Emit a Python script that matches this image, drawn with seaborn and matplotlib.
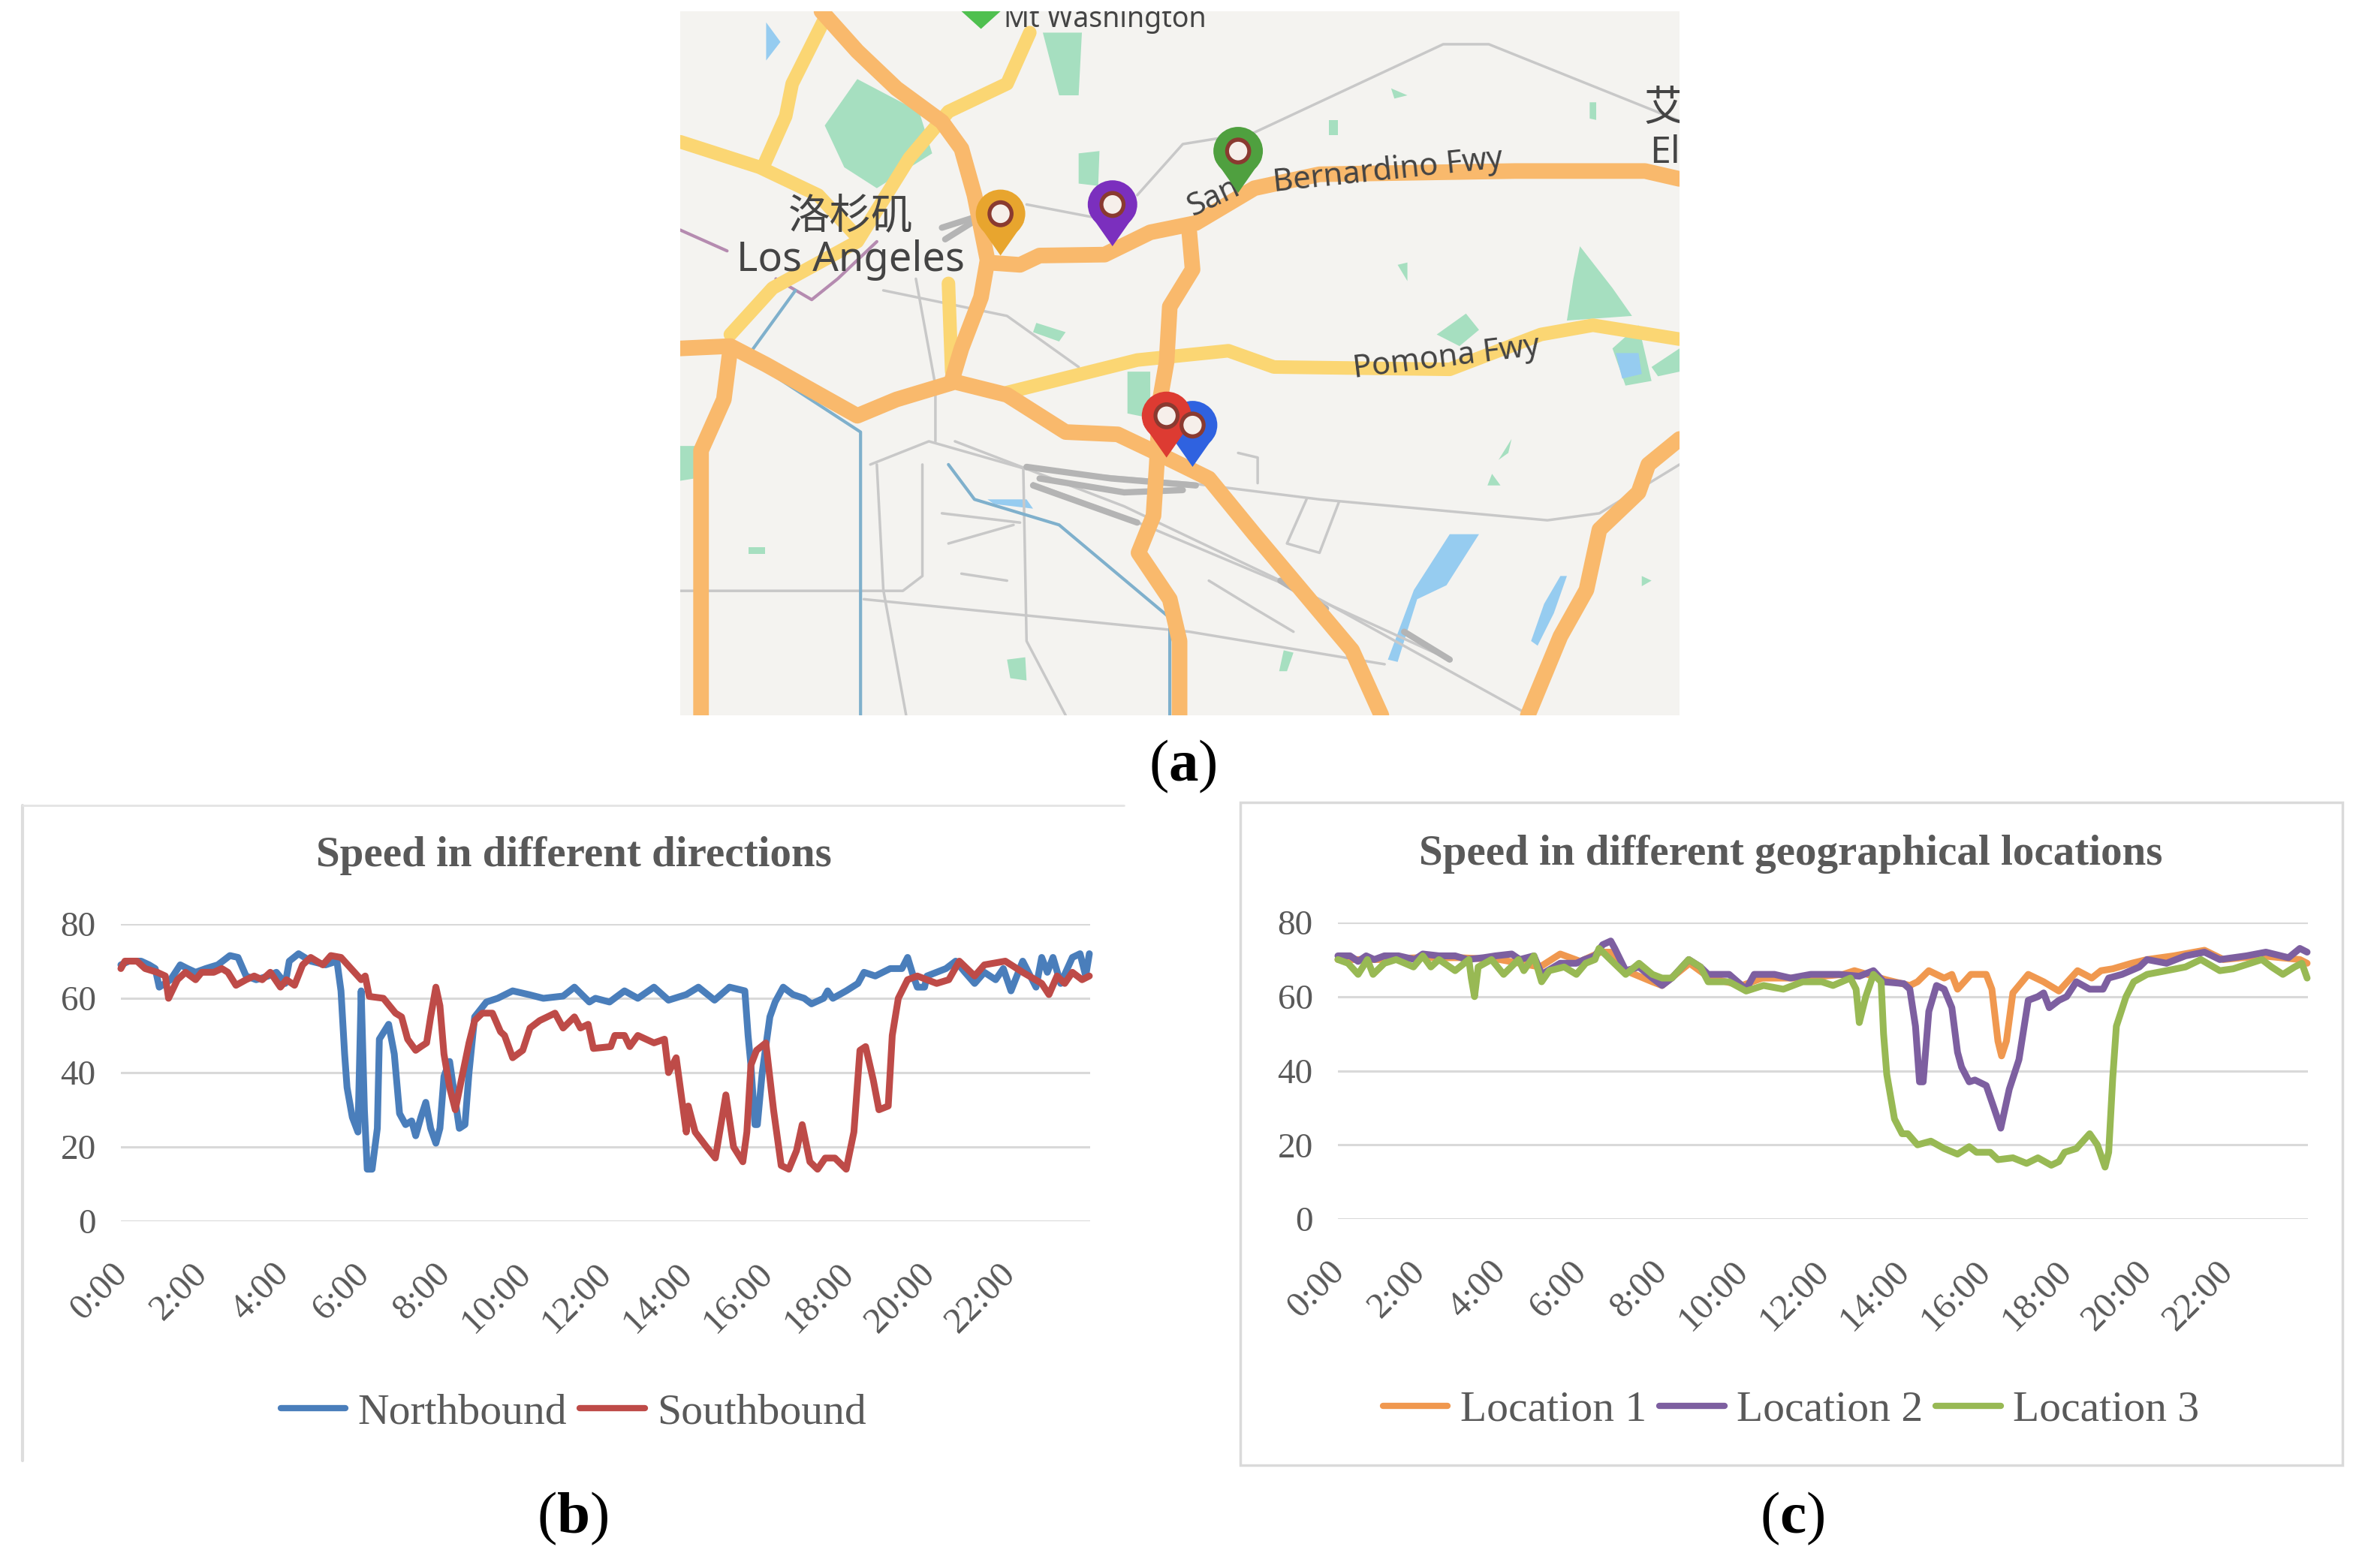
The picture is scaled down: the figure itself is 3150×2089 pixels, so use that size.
import matplotlib
matplotlib.use("Agg")
import pandas as pd
import matplotlib.pyplot as plt
import seaborn as sns
from matplotlib.lines import Line2D
from matplotlib.patches import Ellipse, Polygon, Rectangle
from matplotlib.transforms import ScaledTranslation

# ---- data (hours, mph) ----
time_labels = ['0:00', '2:00', '4:00', '6:00', '8:00', '10:00', '12:00', '14:00', '16:00', '18:00', '20:00', '22:00']
time_ticks = [0, 2, 4, 6, 8, 10, 12, 14, 16, 18, 20, 22]
speed_ticks = [0, 20, 40, 60, 80]

north_h = [0, .2, .5, .7, .85, .95, 1.23, 1.47, 1.65, 1.85, 2.1, 2.4, 2.7, 2.9, 3.1, 3.35, 3.65, 3.85, 4.07, 4.17, 4.4, 4.7, 5.07, 5.35, 5.45, 5.54, 5.6, 5.73, 5.87, 5.95, 6.03, 6.1, 6.22, 6.35, 6.4, 6.63, 6.77, 6.9, 7.05, 7.2, 7.3, 7.43, 7.55, 7.67, 7.8, 7.9, 8, 8.14, 8.38, 8.52, 8.62, 8.76, 9.05, 9.33, 9.7, 10.1, 10.46, 10.95, 11.23, 11.6, 11.75, 12.1, 12.47, 12.8, 13.2, 13.56, 14, 14.3, 14.7, 15.07, 15.45, 15.53, 15.6, 15.7, 15.76, 15.88, 16.07, 16.2, 16.4, 16.64, 16.92, 17.1, 17.4, 17.5, 17.63, 17.96, 18.25, 18.4, 18.68, 19.05, 19.34, 19.48, 19.62, 19.72, 19.9, 19.96, 20.43, 20.67, 20.9, 21.14, 21.38, 21.66, 21.85, 22.04, 22.33, 22.66, 22.8, 22.94, 23.08, 23.27, 23.56, 23.75, 23.89, 23.98]
north_v = [69, 70, 70, 69, 68, 63, 65, 69, 68, 67, 68, 69, 71.5, 71, 66, 65, 66, 67, 64, 70, 72, 70, 69, 70, 62, 45, 36, 28, 24, 62, 30, 14, 14, 25, 49, 53, 45, 29, 26, 27, 23, 28, 32, 25, 21, 25, 39, 43, 25, 26, 40, 55, 59, 60, 62, 61, 60, 60.6, 63, 59, 60, 59, 62, 60, 63, 59.5, 61, 63, 59.5, 63, 62, 50, 42, 26, 26, 40, 55, 59, 63, 61, 60, 58.5, 60, 62, 60, 62, 64, 67, 66, 68, 68, 71, 66, 63, 63, 66, 68, 70, 67, 64, 67, 65, 68, 62, 70, 63, 71, 67, 71, 64, 71, 72, 66, 72]

south_h = [0, .1, .4, .6, .9, 1.1, 1.18, 1.4, 1.6, 1.85, 2, 2.3, 2.5, 2.65, 2.85, 3.1, 3.3, 3.5, 3.7, 3.95, 4.1, 4.3, 4.5, 4.7, 5, 5.2, 5.45, 5.7, 5.95, 6.05, 6.15, 6.5, 6.8, 6.95, 7.1, 7.3, 7.43, 7.57, 7.67, 7.8, 7.9, 8, 8.14, 8.28, 8.43, 8.62, 8.76, 8.95, 9.2, 9.4, 9.5, 9.7, 9.95, 10.13, 10.37, 10.75, 10.95, 11.23, 11.38, 11.57, 11.7, 12.13, 12.23, 12.47, 12.6, 12.8, 13.2, 13.46, 13.56, 13.75, 14, 14.05, 14.22, 14.5, 14.72, 14.98, 15.17, 15.4, 15.5, 15.6, 15.74, 15.97, 16.16, 16.35, 16.54, 16.73, 16.87, 17.06, 17.25, 17.44, 17.68, 17.96, 18.15, 18.3, 18.44, 18.63, 18.77, 19, 19.1, 19.25, 19.48, 19.72, 20.2, 20.5, 20.76, 21.14, 21.38, 21.9, 22.33, 22.8, 22.98, 23.18, 23.37, 23.56, 23.8, 23.98]
south_v = [68, 70, 70, 68, 67, 66, 60, 65, 67, 65, 67, 67, 68, 67, 63.5, 65, 66, 65, 67, 63, 65, 63.5, 69, 71, 69, 71.5, 71, 68, 65, 66, 60.5, 60, 56, 55, 49, 46, 47, 48, 55, 63, 58, 45, 36, 30, 38, 48, 54, 56, 56, 51, 50, 44, 46, 52, 54, 56, 52, 55, 52, 53, 46.5, 47, 50, 50, 47, 50, 48, 49, 40, 44, 24, 31, 24, 20, 17, 34, 20, 16, 24, 42, 46, 48, 30, 15, 14, 19, 26, 16, 14, 17, 17, 14, 24, 46, 47, 38, 30, 31, 50, 60, 65, 66, 64, 65, 70, 66, 69, 70, 67, 64, 61, 66, 64, 67, 65, 66]

loc1_h = [0, 1, 2, 3, 4, 5, 5.5, 6, 6.5, 6.75, 7.12, 7.78, 8.02, 8.7, 9.2, 10, 10.5, 11.5, 12.5, 12.78, 13.58, 14.15, 14.34, 14.62, 15, 15.19, 15.33, 15.66, 16.04, 16.18, 16.33, 16.42, 16.54, 16.7, 17.08, 17.46, 17.84, 18.3, 18.65, 18.88, 19.17, 19.64, 20.02, 20.68, 21.44, 21.91, 22.86, 23.8, 23.98]
loc1_v = [70, 70, 70.5, 70.5, 70, 68, 71.5, 69.5, 72, 72, 67, 64, 63, 69, 65, 63, 65, 65, 66, 67, 64.5, 63, 64, 67, 65, 66, 62, 66, 66, 62, 48, 44, 48, 61, 66, 64, 61.5, 67, 65, 67, 67.5, 69, 70, 71, 72.5, 70, 71, 70, 69]

loc2_h = [0, .3, .5, .7, .9, 1.15, 1.5, 1.9, 2.1, 2.5, 2.9, 3.2, 3.6, 3.9, 4.3, 4.5, 4.85, 5.04, 5.5, 5.9, 6.1, 6.36, 6.55, 6.75, 6.85, 7.12, 7.45, 7.78, 8.02, 8.26, 8.68, 8.97, 9.16, 9.68, 10.1, 10.3, 10.8, 11.2, 11.7, 12, 12.4, 12.9, 13.25, 13.5, 14, 14.15, 14.29, 14.39, 14.48, 14.62, 14.81, 15, 15.19, 15.33, 15.43, 15.62, 15.76, 16.04, 16.23, 16.4, 16.61, 16.85, 17.08, 17.32, 17.46, 17.6, 17.84, 18.03, 18.27, 18.6, 18.93, 19.07, 19.4, 19.83, 20.02, 20.5, 20.97, 21.44, 21.82, 22.48, 22.96, 23.52, 23.8, 23.98]
loc2_v = [71, 71, 69.5, 71, 70, 71, 71, 70, 71.5, 71, 71, 70, 70.5, 71, 71.5, 70, 71, 66, 69, 69, 70, 71, 74, 75, 73, 67, 68, 65, 63, 65, 70, 68, 66, 66, 62, 66, 66, 65, 66, 66, 66, 65.5, 67, 64, 63.5, 62, 52, 37, 37, 56, 63, 62, 57, 45, 41, 37, 37.5, 36, 30, 24.5, 35, 43, 59, 60, 61, 57, 59, 60, 64, 62, 62, 65, 66, 68, 70, 69, 71, 72, 70, 71, 72, 70.5, 73, 72]

loc3_h = [0, .25, .5, .73, .87, 1.15, 1.44, 1.87, 2.1, 2.3, 2.5, 2.9, 3.24, 3.3, 3.38, 3.47, 3.8, 4.1, 4.47, 4.6, 4.85, 5.04, 5.23, 5.6, 5.9, 6.13, 6.36, 6.46, 6.74, 7.12, 7.45, 7.78, 8.02, 8.26, 8.68, 8.97, 9.16, 9.68, 10.1, 10.53, 11.02, 11.5, 11.97, 12.25, 12.68, 12.82, 12.9, 13.06, 13.25, 13.44, 13.5, 13.58, 13.77, 13.96, 14.1, 14.34, 14.67, 15, 15.33, 15.62, 15.8, 16.14, 16.33, 16.7, 17.04, 17.32, 17.65, 17.84, 17.98, 18.27, 18.6, 18.79, 18.98, 19.07, 19.17, 19.26, 19.5, 19.69, 20.02, 20.5, 20.97, 21.35, 21.82, 22.15, 22.86, 23.1, 23.38, 23.67, 23.85, 23.98]
loc3_v = [70, 69, 66, 70, 66, 69, 70, 68, 71, 68, 70, 67, 70, 65, 60, 68, 70, 66, 70, 67, 71, 64, 67, 68, 66, 69, 70, 73, 70, 66, 69, 66, 65, 65, 70, 68, 64, 64, 61.5, 63, 62, 64, 64, 63, 65, 62, 53, 60, 66, 64, 50, 39, 27, 23, 23, 20, 21, 19, 17.5, 19.5, 18, 18, 16, 16.5, 15, 16.5, 14.5, 15.5, 18, 19, 23, 20, 14, 18, 38, 52, 60, 64, 66, 67, 68, 70, 67, 67.5, 70, 68, 66, 68, 69, 65]

# ---- map shapes ----
orange_roads = [
    [(235, 24), (290, 110), (350, 190), (420, 262), (450, 320), (470, 420), (490, 560), (480, 640), (450, 750), (435, 820)],
    [(18, 750), (95, 745), (150, 785), (290, 895), (350, 860), (440, 822), (520, 850), (610, 930), (690, 935), (750, 975), (830, 1030), (900, 1150), (990, 1300), (1050, 1400), (1095, 1540)],
    [(95, 750), (85, 860), (50, 970), (50, 1540)],
    [(490, 565), (540, 570), (570, 550), (670, 548), (740, 500), (810, 480), (900, 405), (1000, 375), (1300, 368), (1500, 368), (1553, 385)],
    [(800, 500), (805, 580), (770, 660), (765, 780), (755, 860), (750, 1000), (745, 1110), (722, 1190), (770, 1290), (785, 1380), (785, 1540)],
    [(1553, 945), (1505, 1000), (1490, 1060), (1430, 1140), (1410, 1270), (1370, 1370), (1320, 1540)],
]
yellow_roads = [
    [(18, 305), (140, 360), (230, 420), (290, 510)],
    [(240, 40), (190, 180), (180, 250), (145, 360)],
    [(555, 70), (520, 180), (430, 240), (370, 340), (290, 520), (160, 620), (95, 720)],
    [(520, 845), (720, 775), (860, 755), (930, 790), (1200, 795), (1340, 720), (1420, 700), (1553, 730)],
    [(430, 610), (435, 800)],
]
grey_lines = [
    [(720, 420), (790, 310), (900, 285), (1190, 95), (1260, 95), (1553, 260)],
    [(310, 1000), (400, 950), (550, 1010), (800, 1040), (1000, 1075), (1350, 1120), (1430, 1105), (1553, 1000)],
    [(440, 950), (700, 1090), (1000, 1290), (1310, 1530)],
    [(18, 1272), (360, 1272), (390, 1240), (390, 1000)],
    [(300, 1290), (800, 1360), (1100, 1430)],
    [(320, 1000), (330, 1270), (365, 1540)],
    [(380, 600), (410, 830), (410, 950)],
    [(545, 1010), (550, 1380), (610, 1540)],
    [(550, 440), (680, 475)],
    [(330, 625), (520, 680), (630, 790)],
    [(560, 1040), (730, 1130), (950, 1260), (1200, 1420)],
    [(980, 1075), (950, 1170), (1000, 1190), (1030, 1080)],
    [(420, 1105), (540, 1125)],
    [(430, 1170), (530, 1130)],
    [(830, 1250), (900, 1310), (960, 1360)],
    [(450, 1235), (520, 1250)],
    [(875, 975), (905, 985), (905, 1040)],
]
rail_yard = [
    [(550, 1005), (680, 1030), (810, 1045)],
    [(570, 1030), (700, 1060), (790, 1055)],
    [(560, 1045), (720, 1125)],
    [(940, 1250), (1010, 1310)],
    [(1130, 1360), (1200, 1420)],
    [(420, 490), (465, 470)],
    [(425, 515), (465, 480)],
]
transit_lines = [
    [(18, 495), (90, 540)],
    [(165, 600), (220, 645), (260, 600), (320, 520)],
]
blue_lines = [
    [(195, 625), (120, 770), (295, 930), (295, 1540)],
    [(430, 1000), (470, 1075), (600, 1130), (770, 1330), (770, 1540)],
]
green_patches = [
    [(290, 170), (385, 240), (405, 330), (320, 405), (270, 360), (240, 270)],
    [(575, 70), (635, 70), (630, 205), (600, 205)],
    [(630, 330), (662, 325), (660, 400), (630, 395)],
    [(705, 800), (740, 800), (740, 900), (705, 890)],
    [(1390, 600), (1400, 530), (1450, 620), (1480, 680), (1380, 690)],
    [(1180, 720), (1225, 675), (1245, 710), (1215, 745)],
    [(1450, 750), (1490, 700), (1510, 820), (1470, 830)],
    [(1510, 790), (1553, 750), (1553, 800), (1520, 810)],
    [(520, 1420), (548, 1415), (550, 1465), (525, 1460)],
    [(565, 695), (610, 715), (600, 735), (560, 715)],
    [(1415, 220), (1425, 220), (1425, 258), (1415, 255)],
    [(1015, 258), (1028, 258), (1028, 290), (1015, 290)],
    [(1120, 570), (1135, 565), (1135, 605)],
    [(1275, 990), (1295, 945), (1290, 975)],
    [(945, 1400), (960, 1405), (950, 1445), (938, 1445)],
    [(123, 1178), (148, 1178), (148, 1192), (123, 1192)],
    [(18, 960), (42, 960), (40, 1030), (18, 1035)],
    [(1110, 190), (1135, 205), (1115, 212)],
    [(1495, 1240), (1510, 1250), (1495, 1262)],
    [(1265, 1020), (1278, 1045), (1258, 1045)],
]
water_patches = [
    [(150, 48), (172, 90), (150, 130)],
    [(1200, 1150), (1245, 1150), (1195, 1260), (1150, 1290), (1120, 1425), (1105, 1420), (1145, 1270)],
    [(1370, 1240), (1380, 1240), (1360, 1320), (1335, 1390), (1325, 1380), (1345, 1300)],
    [(1455, 760), (1490, 760), (1495, 805), (1465, 815)],
    [(490, 1075), (550, 1075), (560, 1095), (500, 1085)],
]
pin_x = [510, 682, 875, 805, 765]
pin_y = [460, 440, 325, 915, 895]
pin_colors = ['#E8A52E', '#7B2FBE', '#4FA03F', '#2F62E0', '#DD3B32']

sns.set_theme(style="white")
plt.rcParams['mathtext.fontset'] = 'custom'
plt.rcParams['mathtext.rm'] = 'Liberation Serif'
plt.rcParams['mathtext.bf'] = 'Liberation Serif:bold'
plt.rcParams['font.family'] = ['Liberation Serif']

W, H = 3150, 2089
fig = plt.figure(figsize=(W / 100, H / 100), dpi=100, facecolor='white')


def axes_px(x0, y0, x1, y1):
    return fig.add_axes([x0 / W, 1 - y1 / H, (x1 - x0) / W, (y1 - y0) / H])


# ---- map ----
ax_map = axes_px(906, 15, 2237, 953)
ax_map.set_facecolor('#F4F3F0')
ax_map.set_xlim(18, 1553)
ax_map.set_ylim(1540, 24)
ax_map.set_xticks([])
ax_map.set_yticks([])
for s in ax_map.spines.values():
    s.set_visible(False)

for p in green_patches:
    ax_map.add_patch(Polygon(p, color='#A6DFC0', lw=0))
for p in water_patches:
    ax_map.add_patch(Polygon(p, color='#96CCF0', lw=0))
for r in grey_lines:
    ax_map.plot(*zip(*r), color='#C8C8C8', lw=2.5)
for r in rail_yard:
    ax_map.plot(*zip(*r), color='#B4B4B4', lw=6)
for r in transit_lines:
    ax_map.plot(*zip(*r), color='#B58BB0', lw=3)
for r in blue_lines:
    ax_map.plot(*zip(*r), color='#7FB0CC', lw=3)
for r in yellow_roads:
    ax_map.plot(*zip(*r), color='#FBD673', lw=13, solid_joinstyle='round')
for r in orange_roads:
    ax_map.plot(*zip(*r), color='#F9B96C', lw=15, solid_joinstyle='round')

map_font = ['Noto Sans', 'Noto Sans CJK SC']
ax_map.text(280, 468, '洛杉矶', fontsize=40, family=['Noto Sans CJK SC'], color='#444444', ha='center', va='center')
ax_map.text(280, 560, 'Los Angeles', fontsize=39, family=map_font, color='#444444', ha='center', va='center')
ax_map.text(670, 42, 'Mt Washington', fontsize=27, family=map_font, color='#444444', ha='center', va='center', clip_on=True)
ax_map.text(838, 425, 'San', fontsize=30, family=map_font, color='#444444', ha='center', va='center', rotation=25)
ax_map.text(1105, 368, 'Bernardino Fwy', fontsize=30, family=map_font, color='#444444', ha='center', va='center', rotation=6)
ax_map.text(1195, 770, 'Pomona Fwy', fontsize=30, family=map_font, color='#444444', ha='center', va='center', rotation=7)
ax_map.text(1530, 235, '艾', fontsize=40, family=['Noto Sans CJK SC'], color='#444444', ha='center', va='center', clip_on=True)
ax_map.text(1530, 330, 'El', fontsize=36, family=map_font, color='#444444', ha='center', va='center', clip_on=True)

for px, py, pc in zip(pin_x, pin_y, pin_colors):
    ax_map.add_patch(Polygon([(px - 36, py + 18), (px + 36, py + 18), (px, py + 90)], color=pc, lw=0, zorder=5))
    ax_map.add_patch(Ellipse((px, py), 76, 104, color=pc, lw=0, zorder=5))
    ax_map.add_patch(Ellipse((px, py), 40, 58, color='#8A3A30', lw=0, zorder=6))
    ax_map.add_patch(Ellipse((px, py), 28, 40, color='#F6EFEA', lw=0, zorder=7))
# top pin, cut by the map edge
ax_map.add_patch(Polygon([(450, 24), (510, 24), (480, 62)], color='#4FC04F', lw=0, zorder=5))


# ---- line charts ----
def speed_chart(ax, title, series, colors, title_y):
    df = pd.concat([pd.DataFrame({'hour': h, 'speed': v, 'series': n}) for n, h, v in series])
    sns.lineplot(data=df, x='hour', y='speed', hue='series', palette=colors, estimator=None, sort=False,
                 lw=6.5, ax=ax, clip_on=False)
    ax.set_xlim(0, 24)
    ax.set_ylim(0, 80)
    ax.set_xlabel('')
    ax.set_ylabel('')
    ax.set_xticks(time_ticks)
    ax.set_xticklabels(time_labels, rotation=45, ha='right', va='top', rotation_mode='anchor', fontsize=35, color='#595959')
    ax.set_yticks(speed_ticks)
    ax.set_yticklabels([str(v) for v in speed_ticks], fontsize=34, color='#595959')
    ax.tick_params(axis='x', length=0, pad=34)
    ax.tick_params(axis='y', length=0, pad=24)
    shift = ScaledTranslation(-14 / 100, 0, fig.dpi_scale_trans)
    for lab in ax.get_xticklabels():
        lab.set_transform(lab.get_transform() + shift)
    ax.grid(axis='y', color='#D9D9D9', lw=2.2)
    ax.grid(axis='x', visible=False)
    ax.set_axisbelow(True)
    for s in ax.spines.values():
        s.set_visible(False)
    ax.patch.set_alpha(0)
    ax.set_title(title, fontsize=41, fontweight='bold', color='#595959', pad=0, x=0.467, y=title_y)
    leg = ax.legend(loc='center', bbox_to_anchor=(0.467, -0.645), ncol=len(series), frameon=False, fontsize=41.5,
                    handlelength=1.5, handletextpad=0.28, columnspacing=0.3, labelcolor='#595959', title=None)
    for line in leg.get_lines():
        line.set_linewidth(6)


ax_b = axes_px(161, 1231, 1452, 1627)
speed_chart(ax_b, 'Speed in different directions',
            [('Northbound', north_h, north_v), ('Southbound', south_h, south_v)],
            {'Northbound': '#4A7EBB', 'Southbound': '#BE4B48'}, 1.195)

ax_c = axes_px(1782, 1229, 3074, 1624)
speed_chart(ax_c, 'Speed in different geographical locations',
            [('Location 1', loc1_h, loc1_v), ('Location 2', loc2_h, loc2_v), ('Location 3', loc3_h, loc3_v)],
            {'Location 1': '#F0984F', 'Location 2': '#7D5FA0', 'Location 3': '#98B954'}, 1.195)

# chart frames
fig.add_artist(Line2D([30 / W, 30 / W], [1 - 1073 / H, 1 - 1946 / H], color='#DDDDDD', lw=3))
fig.add_artist(Line2D([30 / W, 1497 / W], [1 - 1073 / H, 1 - 1073 / H], color='#E4E4E4', lw=2))
fig.add_artist(Rectangle((1652 / W, 1 - 1952 / H), (3120 - 1652) / W, (1952 - 1069) / H, fill=False,
                         edgecolor='#DADADA', lw=2.5, transform=fig.transFigure))

# panel letters
for lab, x, y in [('a', 1575, 1021), ('b', 763, 2023), ('c', 2387, 2023)]:
    fig.text(x / W, 1 - y / H, r'$(\mathbf{%s})$' % lab, fontsize=57, color='black', ha='center', va='center')

fig.savefig('out.png', dpi=100, facecolor='white')
